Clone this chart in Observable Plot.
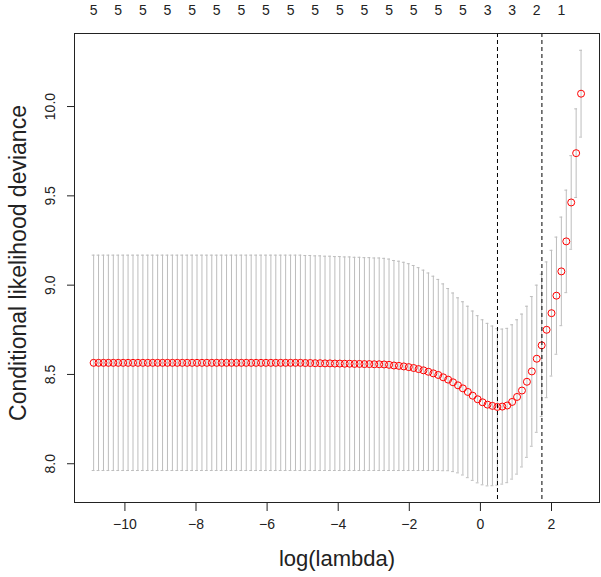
<!DOCTYPE html>
<html><head><meta charset="utf-8">
<script src="https://cdn.jsdelivr.net/npm/d3@7"></script>
<script src="https://cdn.jsdelivr.net/npm/@observablehq/plot@0.6"></script>
<style>body{margin:0;background:#fff}</style>
</head><body><div id="chart"></div>
<script>
const logLambda = [
-10.880,-10.742,-10.603,-10.465,-10.326,-10.188,-10.049,-9.911,-9.772,-9.634,
-9.495,-9.357,-9.218,-9.080,-8.941,-8.803,-8.664,-8.526,-8.387,-8.249,
-8.110,-7.972,-7.833,-7.695,-7.556,-7.418,-7.279,-7.141,-7.002,-6.864,
-6.725,-6.587,-6.448,-6.310,-6.171,-6.033,-5.894,-5.756,-5.617,-5.479,
-5.340,-5.202,-5.063,-4.925,-4.786,-4.648,-4.509,-4.371,-4.232,-4.094,
-3.955,-3.817,-3.678,-3.540,-3.401,-3.263,-3.124,-2.986,-2.847,-2.709,
-2.570,-2.432,-2.293,-2.155,-2.016,-1.878,-1.739,-1.601,-1.462,-1.324,
-1.185,-1.047,-0.908,-0.770,-0.631,-0.493,-0.354,-0.216,-0.077,0.061,
0.200,0.338,0.477,0.615,0.754,0.892,1.031,1.169,1.308,1.446,
1.585,1.723,1.862,2.000,2.139,2.277,2.416,2.554,2.693,2.831];
const cvm = [
8.565,8.565,8.565,8.565,8.565,8.565,8.565,8.565,8.565,8.565,
8.565,8.565,8.565,8.565,8.565,8.565,8.565,8.565,8.565,8.565,
8.565,8.565,8.565,8.565,8.565,8.565,8.565,8.565,8.565,8.565,
8.565,8.565,8.565,8.565,8.565,8.565,8.565,8.565,8.565,8.565,
8.565,8.565,8.565,8.564,8.564,8.563,8.563,8.562,8.562,8.561,
8.561,8.560,8.560,8.559,8.559,8.558,8.558,8.557,8.557,8.556,
8.554,8.550,8.548,8.545,8.541,8.536,8.530,8.523,8.515,8.506,
8.497,8.484,8.471,8.456,8.439,8.422,8.402,8.381,8.361,8.344,
8.331,8.324,8.318,8.320,8.326,8.346,8.374,8.410,8.459,8.517,
8.588,8.663,8.750,8.843,8.941,9.077,9.245,9.463,9.739,10.072];
const cvsd = [
0.603,0.603,0.603,0.603,0.603,0.603,0.603,0.603,0.603,0.603,
0.603,0.603,0.603,0.603,0.603,0.603,0.603,0.603,0.603,0.603,
0.603,0.603,0.603,0.603,0.603,0.603,0.603,0.603,0.603,0.603,
0.603,0.603,0.603,0.603,0.603,0.603,0.603,0.603,0.603,0.603,
0.603,0.603,0.603,0.602,0.602,0.601,0.601,0.600,0.600,0.599,
0.599,0.598,0.598,0.597,0.597,0.596,0.596,0.595,0.595,0.594,
0.592,0.588,0.586,0.583,0.579,0.574,0.568,0.561,0.553,0.544,
0.535,0.523,0.510,0.500,0.490,0.485,0.480,0.474,0.468,0.462,
0.455,0.447,0.438,0.434,0.432,0.432,0.432,0.428,0.423,0.419,
0.412,0.398,0.380,0.352,0.328,0.304,0.287,0.262,0.248,0.243];
const nzeroAt = [-10.880,-10.188,-9.495,-8.803,-8.110,-7.418,-6.725,-6.033,-5.340,-4.648,
-3.955,-3.263,-2.570,-1.878,-1.185,-0.493,0.200,0.892,1.585,2.277];
const nzeroLabels = ["5","5","5","5","5","5","5","5","5","5","5","5","5","5","5","5","3","3","2","1"];
const lambdaMinLog = 0.48;
const lambda1seLog = 1.73;
const xTicks = [-10,-8,-6,-4,-2,0,2];
const yTicks = [8.0,8.5,9.0,9.5,10.0];
const xTitle = "log(lambda)";
const yTitle = "Conditional likelihood deviance";

const data = logLambda.map((x, i) => ({x, m: cvm[i], lo: cvm[i] - cvsd[i], hi: cvm[i] + cvsd[i]}));
const capHalf = 0.04;
const bar = "#bdbdbd";

const chart = Plot.plot({
  width: 601, height: 577,
  marginLeft: 74, marginRight: 2, marginTop: 33, marginBottom: 75,
  style: {fontFamily: "'Liberation Sans', Arial, sans-serif", fontSize: "14px", color: "#222", background: "#fff"},
  x: {domain: [-11.418, 3.350]},
  y: {domain: [7.783, 10.409]},
  marks: [
    Plot.ruleX(data, {x: "x", y1: "lo", y2: "hi", stroke: bar}),
    Plot.ruleY(data, {y: "hi", x1: d => d.x - capHalf, x2: d => d.x + capHalf, stroke: bar}),
    Plot.ruleY(data, {y: "lo", x1: d => d.x - capHalf, x2: d => d.x + capHalf, stroke: bar}),
    Plot.dot(data, {x: "x", y: "m", r: 3.5, stroke: "red", fill: "none", strokeWidth: 1}),
    Plot.ruleX([lambdaMinLog, lambda1seLog], {x: d => d, stroke: "black", strokeDasharray: "4,3"}),
    Plot.text(nzeroAt, {x: d => d, text: (d, i) => nzeroLabels[i], frameAnchor: "top", dy: -18.5, lineAnchor: "bottom", fontSize: 14}),
    Plot.frame({stroke: "#222"}),
    Plot.axisX({ticks: xTicks, tickSize: 9, tickPadding: 7.5, label: null}),
    Plot.axisY({ticks: yTicks, tickFormat: ".1f", tickSize: 7, tickPadding: 13, tickRotate: -90, label: null}),
    Plot.text([xTitle], {text: d => d, frameAnchor: "bottom", dy: 63, fontSize: 22}),
    Plot.text([yTitle], {text: d => d, frameAnchor: "left", textAnchor: "middle", dx: -56, dy: -5, rotate: -90, fontSize: 23})
  ]
});
document.getElementById("chart").appendChild(chart);
</script>
</body></html>
